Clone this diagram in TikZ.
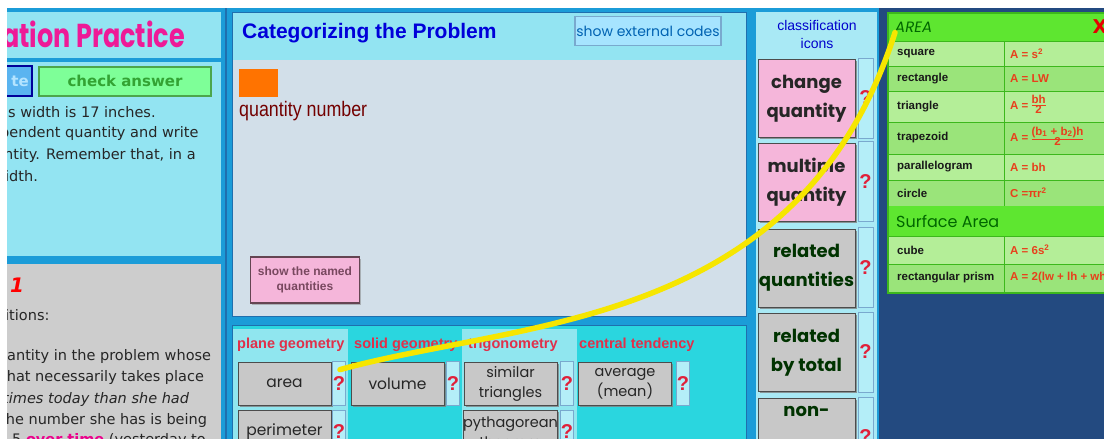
\documentclass[tikz,border=0pt]{standalone}
\usepackage{fontspec}
\setmainfont{DejaVu Sans}
\newfontfamily\arialf{Liberation Sans}
\newfontfamily\comicf{Poppins}
\usetikzlibrary{shadows}
\definecolor{framebl}{HTML}{1B9CD8}
\definecolor{lineblue}{HTML}{1F6FAE}
\definecolor{panelcy}{HTML}{93E4F2}
\definecolor{bodygr}{HTML}{D2DFE9}
\definecolor{leftgr}{HTML}{CDCDCD}
\definecolor{lowcy}{HTML}{2AD6DF}
\definecolor{colhl}{HTML}{90E6EF}
\definecolor{btngray}{HTML}{C8C8C8}
\definecolor{pinkbtn}{HTML}{F5B6DA}
\definecolor{qcyan}{HTML}{B4EEF8}
\definecolor{qred}{HTML}{E0203A}
\definecolor{navy}{HTML}{234A80}
\definecolor{greenhd}{HTML}{5EE630}
\definecolor{greenlt}{HTML}{B4EE98}
\definecolor{greenmd}{HTML}{9AE47A}
\definecolor{tabline}{HTML}{3CB81C}
\definecolor{fmred}{HTML}{E8401C}
\definecolor{hdred}{HTML}{E0304A}
\definecolor{curvey}{HTML}{F6E600}
\definecolor{updbl}{HTML}{5AB4F0}
\definecolor{updtx}{HTML}{B4E4FF}
\newcommand{\fracbox}[2]{\begin{tabular}[c]{@{}c@{}}\underline{#1}\\[-2pt]#2\end{tabular}}
\tikzset{
  graybtn/.style={fill=btngray, draw=black!70, line width=1pt,
    drop shadow={shadow xshift=1.5pt, shadow yshift=-1.5pt, opacity=0.8},
    minimum width=93pt, minimum height=43pt, inner sep=0pt, align=center,
    text=black!85, font=\comicf\fontsize{15.5}{20}\selectfont},
  classbtn/.style={graybtn, fill=#1, minimum width=97pt, minimum height=78pt,
    text=black!80!green, font=\comicf\bfseries\fontsize{18}{29}\selectfont},
  qbtn/.style={fill=qcyan, draw=lineblue!60, line width=0.8pt, minimum width=12pt,
    minimum height=44pt, inner sep=0pt, text=qred, font=\arialf\bfseries\fontsize{20}{20}\selectfont},
  lefttxt/.style={anchor=west, inner sep=0pt, text=black!85, font=\fontsize{14.5}{17}\selectfont},
  colhead/.style={anchor=west, inner sep=0pt, text=hdred, font=\arialf\bfseries\fontsize{14.5}{17}\selectfont},
  celltxt/.style={anchor=west, inner sep=0pt, text=black!90, font=\arialf\bfseries\fontsize{11.5}{13}\selectfont},
  fmtxt/.style={anchor=west, inner sep=0pt, text=fmred, font=\arialf\bfseries\fontsize{11.5}{12}\selectfont},
  cellln/.style={draw=tabline, line width=0.8pt},
  curve/.style={draw=curvey, line width=5.5pt, line cap=round}
}
\begin{document}
\begin{tikzpicture}[x=1pt,y=-1pt]
\clip (0,0) rectangle (1104,439);
\fill[white] (0,0) rectangle (1104,439);
\fill[framebl] (7,8) rectangle (1104,439);
% left panels
\fill[panelcy] (7,12) rectangle (221,256);
\fill[framebl] (7,58) rectangle (221,62);
\fill[leftgr] (7,264) rectangle (221,439);
\draw[lineblue, line width=1.2pt] (226,8) -- (226,439);
\node[anchor=west, inner sep=0pt, text=magenta!90!white] (title) at (2,34)
  {\scalebox{1}[1.3]{\comicf\bfseries\fontsize{25.5}{28}\selectfont ation Practice}};
\node[fill=updbl, draw=blue!60!black, line width=1.5pt, minimum width=50pt,
  minimum height=30pt, inner sep=0pt] (upd) at (7,81) {};
\node[anchor=east, inner sep=0pt, text=updtx, font=\bfseries\fontsize{15}{17}\selectfont] (updt) at (29,81) {te};
\node[fill=green!45!white!90!cyan, draw=green!50!black!70, line width=2pt, minimum width=172pt,
  minimum height=29pt, inner sep=0pt, text=green!55!black!80,
  font=\bfseries\fontsize{15}{17}\selectfont] (check) at (125,81) {check answer};
\node[lefttxt] (l1) at (8,112) {s width is 17 inches.};
\node[lefttxt] (l2) at (0,133) {pendent quantity and write};
\node[lefttxt] (l3) at (4,155) {ntity. Remember that, in a};
\node[lefttxt] (l4) at (5,176) {idth.};
\node[anchor=center, inner sep=0pt, text=red, font=\bfseries\itshape\fontsize{20}{20}\selectfont] (num) at (17,285) {1};
\node[lefttxt] (d1) at (5,315) {itions:};
\node[lefttxt] (d2) at (7,356) {antity in the problem whose};
\node[lefttxt] (d3) at (1,377) {that necessarily takes place};
\node[lefttxt, font=\itshape\fontsize{14.5}{17}\selectfont] (d4) at (3,399) {times today than she had};
\node[lefttxt] (d5) at (0,420) {the number she has is being};
\node[lefttxt] (d6) at (12,440) {5 \textcolor{magenta}{\bfseries\underline{over time}} (yesterday to};
% middle panel
\fill[panelcy] (232,12) rectangle (746,60);
\fill[bodygr] (232,60) rectangle (746,316);
\draw[lineblue, line width=1pt] (232,12) rectangle (746,316);
\node[anchor=west, inner sep=0pt, text=blue!85!black, font=\arialf\bfseries\fontsize{21}{24}\selectfont] (cat) at (242,33) {Categorizing the Problem};
\node[fill=blue!30!cyan!35, draw=lineblue!60, line width=1.5pt, minimum width=146pt, minimum height=29pt,
  inner sep=0pt, text=blue!45!cyan!70!black, font=\comicf\fontsize{14}{16}\selectfont] (ext) at (648,31) {show external codes};
\fill[orange!90!red] (239,69) rectangle (278,97);
\node[anchor=west, inner sep=0pt, text=red!45!black] (qnum) at (239,111)
  {\scalebox{0.85}[1]{\arialf\fontsize{21}{24}\selectfont quantity number}};
\node[fill=pinkbtn, draw=black!70!magenta, line width=1.5pt, minimum width=109pt, minimum height=46pt,
  inner sep=0pt, align=center, text=magenta!40!black, drop shadow={shadow xshift=1.5pt, shadow yshift=-1.5pt},
  font=\arialf\bfseries\fontsize{12}{15}\selectfont] (named) at (305,280) {show the named\\quantities};
% bottom middle panel
\fill[lowcy] (232,325) rectangle (746,439);
\draw[lineblue, line width=1pt] (232,325) rectangle (746,445);
\fill[colhl] (233,329) rectangle (348,439);
\fill[colhl] (462,329) rectangle (577,439);
\node[colhead] (hpl) at (237,345) {plane geometry};
\node[colhead] (hso) at (354,345) {solid geometry};
\node[colhead] (htr) at (468,345) {trigonometry};
\node[colhead] (hce) at (579,345) {central tendency};
\node[graybtn] (area) at (284.5,383.5) {area};
\node[qbtn] (qa) at (339,383.5) {?};
\node[graybtn] (vol) at (397.5,383.5) {volume};
\node[qbtn] (qv) at (453,383.5) {?};
\node[graybtn, font=\comicf\fontsize{14.5}{20}\selectfont] (sim) at (510.5,383.5) {similar\\triangles};
\node[qbtn] (qs) at (567,383.5) {?};
\node[graybtn, font=\comicf\fontsize{14.5}{20}\selectfont] (avg) at (625,383.5) {average\\(mean)};
\node[qbtn] (qm) at (683,383.5) {?};
\node[graybtn] (per) at (284.5,432) {perimeter};
\node[qbtn] (qp) at (339,432) {?};
\node[graybtn, font=\comicf\fontsize{14.5}{20}\selectfont] (pyt) at (510.5,432) {pythagorean\\theorem};
\node[qbtn] (qt) at (567,432) {?};
% classification column
\fill[panelcy!80!white] (756,12) rectangle (877,439);
\node[align=center, inner sep=0pt, text=blue!80!black, font=\arialf\fontsize{14}{18}\selectfont] (cls) at (817,34) {classification\\icons};
\node[classbtn=pinkbtn, text=black!85] (chg) at (806.5,98.5) {change\\quantity};
\node[qbtn, minimum width=15pt, minimum height=80pt] (qc1) at (865.5,98) {?};
\node[classbtn=pinkbtn, text=black!85] (mul) at (806.5,182) {multiple\\quantity};
\node[qbtn, minimum width=15pt, minimum height=80pt] (qc2) at (865.5,181.5) {?};
\node[classbtn=btngray] (rel) at (806.5,268) {related\\quantities};
\node[qbtn, minimum width=15pt, minimum height=80pt] (qc3) at (865.5,267.5) {?};
\node[classbtn=btngray] (tot) at (806.5,352.5) {related\\by total};
\node[qbtn, minimum width=15pt, minimum height=80pt] (qc4) at (865.5,352) {?};
\node[classbtn=btngray, minimum height=84pt] (non) at (806.5,440) {non-\\ \\};
\node[qbtn, minimum width=15pt, minimum height=80pt] (qc5) at (865.5,437) {?};
% formula table
\fill[navy] (879,8) rectangle (1104,439);
\fill[greenhd] (888,13) rectangle (1104,41);
\node[anchor=west, inner sep=0pt, text=green!40!black, font=\comicf\itshape\fontsize{15}{17}\selectfont] (areahd) at (895,27) {AREA};
\node[inner sep=0pt, text=red!90!black, font=\bfseries\fontsize{19}{19}\selectfont] (close) at (1100,27) {X};
\foreach \ya/\yb/\nm/\fm/\fc [count=\i] in {
  41/66/square/{A = s\textsuperscript{2}}/greenlt,
  66/91/rectangle/{A = LW}/greenmd,
  91/122/triangle/{A = \fracbox{bh}{2}}/greenlt,
  122/154/trapezoid/{A = \fracbox{(b\textsubscript{1} + b\textsubscript{2})h}{2}}/greenmd,
  154/180/parallelogram/{A = bh}/greenlt,
  180/206/circle/{C =πr\textsuperscript{2}}/greenmd}
{
  \draw[cellln, fill=\fc] (888,\ya) rectangle (1004,\yb);
  \draw[cellln, fill=\fc] (1004,\ya) rectangle (1110,\yb);
  \node[celltxt] (rw\i) at (897,{(\ya+\yb)/2}) {\nm};
  \node[fmtxt] (fm\i) at (1010,{(\ya+\yb)/2}) {\fm};
}
\fill[greenhd] (888,206) rectangle (1104,236);
\node[anchor=west, inner sep=0pt, text=green!40!black, font=\comicf\fontsize{16}{18}\selectfont] (surf) at (896,221) {Surface Area};
\foreach \ya/\yb/\nm/\fm/\fc [count=\i from 7] in {
  236/264/cube/{A = 6s\textsuperscript{2}}/greenlt,
  264/292/rectangular prism/{A = 2(lw + lh + wh)}/greenmd}
{
  \draw[cellln, fill=\fc] (888,\ya) rectangle (1004,\yb);
  \draw[cellln, fill=\fc] (1004,\ya) rectangle (1110,\yb);
  \node[celltxt] (rw\i) at (897,{(\ya+\yb)/2}) {\nm};
  \node[fmtxt] (fm\i) at (1010,{(\ya+\yb)/2}) {\fm};
}
\draw[tabline, line width=2pt] (888,13) rectangle (1110,293);
% white edges of the screenshot
\fill[white] (0,0) rectangle (1104,8);
\fill[white] (0,0) rectangle (7,439);
% link from area help to the table
\draw[curve] ([xshift=1pt,yshift=-8.5pt]qa.north) .. controls (520,320) and (800,330) .. (areahd.south west);
\end{tikzpicture}
\end{document}
